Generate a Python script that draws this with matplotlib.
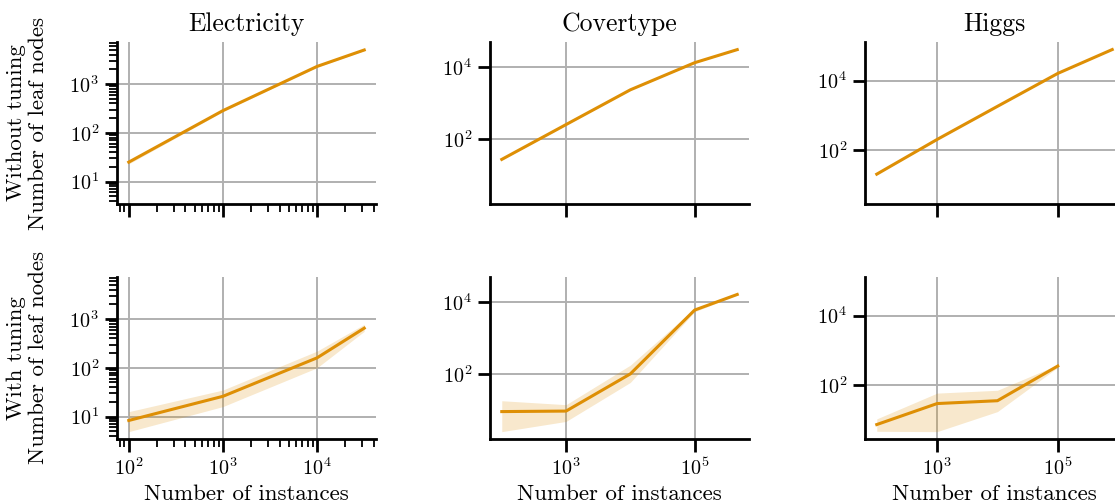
import matplotlib
matplotlib.use('Agg')
import matplotlib.pyplot as plt
from matplotlib.ticker import LogLocator, NullLocator

plt.rcParams.update({
    'font.family': 'serif',
    'font.serif': ['cmr10'],
    'mathtext.fontset': 'cm',
    'axes.formatter.use_mathtext': True,
    'axes.unicode_minus': False,
})

# ---------------- data ----------------
datasets = ["Electricity", "Covertype", "Higgs"]
row_labels = ["Without tuning\nNumber of leaf nodes", "With tuning\nNumber of leaf nodes"]
xlabel = "Number of instances"

# Electricity
elec_x = [1e2, 1e3, 1e4, 3.17e4]
elec_notune = [25, 285, 2300, 5000]
elec_notune_lo = [23, 272, 2220, 4850]
elec_notune_hi = [27, 298, 2380, 5150]
elec_tune_x = [1e2, 1e3, 1e4, 3.17e4]
elec_tune = [8.3, 26, 160, 650]
elec_tune_lo = [4.9, 16, 100, 560]
elec_tune_hi = [12.6, 35, 220, 780]

# Covertype
cov_x = [1e2, 1e3, 1e4, 1e5, 4.6e5]
cov_notune = [27, 250, 2300, 13000, 30000]
cov_notune_lo = [26, 242, 2250, 12700, 29500]
cov_notune_hi = [28, 258, 2350, 13300, 30500]
cov_tune_x = [1e2, 1e3, 1e4, 1e5, 4.6e5]
cov_tune = [9, 9.3, 100, 5900, 16000]
cov_tune_lo = [2.5, 4.8, 58, 5300, 15500]
cov_tune_hi = [18, 14, 175, 6600, 16500]

# Higgs
higgs_x = [1e2, 1e3, 1e4, 1e5, 8e5]
higgs_notune = [20, 200, 1800, 16000, 78000]
higgs_notune_lo = [19.5, 195, 1760, 15700, 77000]
higgs_notune_hi = [20.5, 205, 1840, 16300, 79000]
higgs_tune_x = [1e2, 1e3, 1e4, 1e5]
higgs_tune = [7.2, 29, 35, 350]
higgs_tune_lo = [4.6, 4.5, 17, 320]
higgs_tune_hi = [10.5, 58, 70, 380]

xticks = [[1e2, 1e3, 1e4], [1e3, 1e5], [1e3, 1e5]]
yticks = [[1e1, 1e2, 1e3], [1e2, 1e4], [1e2, 1e4]]
show_minor = [True, False, False]

series = [
    [(elec_x, elec_notune, elec_notune_lo, elec_notune_hi),
     (elec_tune_x, elec_tune, elec_tune_lo, elec_tune_hi)],
    [(cov_x, cov_notune, cov_notune_lo, cov_notune_hi),
     (cov_tune_x, cov_tune, cov_tune_lo, cov_tune_hi)],
    [(higgs_x, higgs_notune, higgs_notune_lo, higgs_notune_hi),
     (higgs_tune_x, higgs_tune, higgs_tune_lo, higgs_tune_hi)],
]

color = '#de8f05'

# ---------------- figure ----------------
FW, FH = 1115, 503
fig = plt.figure(figsize=(FW / 100, FH / 100), dpi=100)

lefts = [117, 490, 865]
W = 259
tops = [42, 277]
H = 162

for c in range(3):
    ax_top = fig.add_axes([lefts[c] / FW, (FH - tops[0] - H) / FH, W / FW, H / FH])
    ax_bot = fig.add_axes([lefts[c] / FW, (FH - tops[1] - H) / FH, W / FW, H / FH],
                          sharex=ax_top, sharey=ax_top)
    ax_top.set_xscale('log')
    ax_top.set_yscale('log')
    for r, ax in enumerate([ax_top, ax_bot]):
        x, y, lo, hi = series[c][r]
        ax.fill_between(x, lo, hi, color=color, alpha=0.2, lw=0)
        ax.plot(x, y, color=color, lw=2.2)
        ax.grid(True, which='major', color='#b0b0b0', lw=1.4)
        ax.set_axisbelow(True)
        for s in ['top', 'right']:
            ax.spines[s].set_visible(False)
        for s in ['left', 'bottom']:
            ax.spines[s].set_linewidth(2.0)
        ax.tick_params(which='major', length=9, width=2.0, labelsize=14.5, pad=4)
        ax.tick_params(which='minor', length=6, width=1.3)
        if r == 1:
            ax.set_xlabel(xlabel, fontsize=16.5, labelpad=4)
        if c == 0:
            ax.set_ylabel(row_labels[r], fontsize=16.5, linespacing=1.15)
            ax.yaxis.set_label_coords(-0.266, 0.5)
    ax_top.set_title(datasets[c], fontsize=18.5, pad=8)
    ax_top.tick_params(labelbottom=False)
    ax_top.set_xticks(xticks[c])
    ax_top.set_yticks(yticks[c])
    if show_minor[c]:
        ax_top.xaxis.set_minor_locator(LogLocator(base=10, subs=range(2, 10), numticks=20))
        ax_top.yaxis.set_minor_locator(LogLocator(base=10, subs=range(2, 10), numticks=20))
    else:
        ax_top.xaxis.set_minor_locator(NullLocator())
        ax_top.yaxis.set_minor_locator(NullLocator())

fig.savefig('out.png', dpi=100)
